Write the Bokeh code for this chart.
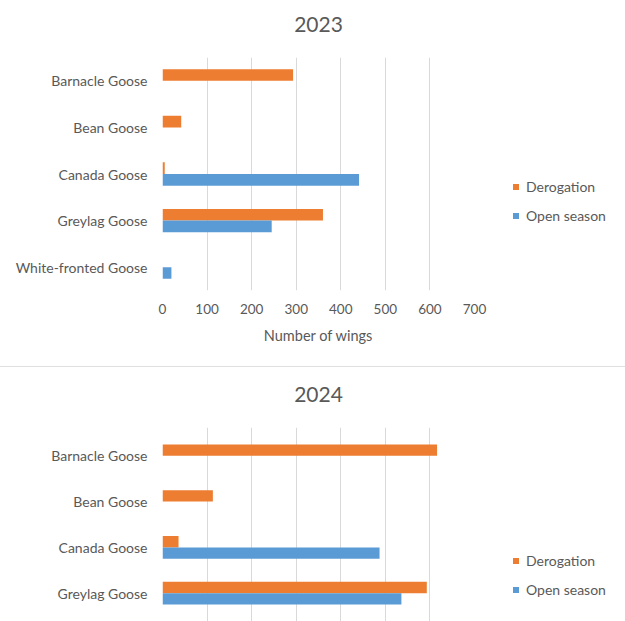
from bokeh.plotting import figure
from bokeh.models import (ColumnDataSource, FactorRange, Range1d, Legend, LegendItem,
                          FixedTicker, Spacer, Title)
from bokeh.layouts import column, row
from bokeh.transform import dodge
from bokeh.embed import file_html
from bokeh.resources import INLINE

# ---- data ----
species_2023 = ["Barnacle Goose", "Bean Goose", "Canada Goose", "Greylag Goose", "White-fronted Goose"]
derogation_2023 = [293, 42, 5, 360, 0]
open_season_2023 = [0, 0, 441, 245, 20]

species_2024 = ["Barnacle Goose", "Bean Goose", "Canada Goose", "Greylag Goose"]
derogation_2024 = [616, 113, 36, 593]
open_season_2024 = [0, 0, 487, 536]

series_names = ["Derogation", "Open season"]
x_ticks = [0, 100, 200, 300, 400, 500, 600, 700]
x_axis_title = "Number of wings"

ORANGE = "#ED7D31"
BLUE = "#5B9BD5"
TEXT = "#595959"
GRID = "#D9D9D9"
FONT = "Lato"
W_MAIN = 494
W_LEG = 131


def make_chart(title, species, derog, opn, height, border_top, border_bottom,
               show_x, gap, pad):
    src = ColumnDataSource(dict(species=species, derog=derog, opn=opn))
    p = figure(width=W_MAIN, height=height,
               y_range=FactorRange(factors=list(reversed(species)),
                                   range_padding=pad, range_padding_units="absolute"),
               x_range=Range1d(0, 700),
               output_backend="svg", toolbar_location=None,
               min_border_left=162, min_border_right=20,
               min_border_top=border_top, min_border_bottom=border_bottom)
    p.hbar(y=dodge("species", 0.125, range=p.y_range), left=0, right="derog",
           height=0.25, source=src, fill_color=ORANGE, line_color=None)
    p.hbar(y=dodge("species", -0.125, range=p.y_range), left=0, right="opn",
           height=0.25, source=src, fill_color=BLUE, line_color=None)

    # blank spacer title (inner) keeps distance between the chart title and the bars
    p.add_layout(Title(text=" ", text_font_size="1px", standoff=gap), "above")
    p.add_layout(Title(text=title, text_font=FONT, text_font_size="21px",
                       text_font_style="normal", text_color=TEXT, align="center",
                       vertical_align="bottom", standoff=0), "above")

    p.outline_line_color = None
    p.ygrid.grid_line_color = None
    p.xgrid.grid_line_color = GRID
    p.xgrid.grid_line_width = 1
    p.xaxis.ticker = FixedTicker(ticks=x_ticks)

    for ax in (p.xaxis, p.yaxis):
        ax.axis_line_color = None
        ax.major_tick_line_color = None
        ax.minor_tick_line_color = None
        ax.major_tick_in = 0
        ax.major_tick_out = 0
        ax.major_label_text_font = FONT
        ax.major_label_text_color = TEXT
        ax.axis_label_text_font = FONT
        ax.axis_label_text_color = TEXT
        ax.axis_label_text_font_style = "normal"
    p.yaxis.major_label_text_font_size = "14px"
    p.yaxis.major_label_standoff = 15
    p.xaxis.major_label_text_font_size = "13.5px"
    p.xaxis.major_label_standoff = 13
    if show_x:
        p.xaxis.axis_label = x_axis_title
        p.xaxis.axis_label_text_font_size = "14.5px"
        p.xaxis.axis_label_standoff = 10
    else:
        p.xaxis.visible = False
    return p


def make_legend(height, loc):
    lf = figure(width=W_LEG, height=height, x_range=Range1d(0, 1), y_range=Range1d(0, 1),
                x_axis_type=None, y_axis_type=None, output_backend="svg",
                toolbar_location=None, min_border=0)
    lf.outline_line_color = None
    lf.grid.visible = False
    # markers placed outside the visible range: only their legend swatches show
    m1 = lf.scatter(x=[-10], y=[-10], marker="square", fill_color=ORANGE, line_color=None)
    m2 = lf.scatter(x=[-10], y=[-10], marker="square", fill_color=BLUE, line_color=None)
    legend = Legend(items=[LegendItem(label=series_names[0], renderers=[m1]),
                           LegendItem(label=series_names[1], renderers=[m2])],
                    location=loc, glyph_width=15, glyph_height=17,
                    label_height=17, label_standoff=3, spacing=12,
                    padding=0, margin=0, border_line_alpha=0,
                    background_fill_alpha=0, label_text_font=FONT,
                    label_text_font_size="14px", label_text_color=TEXT)
    lf.add_layout(legend)
    return lf


p1 = make_chart("2023", species_2023, derogation_2023, open_season_2023,
                height=366, border_top=57, border_bottom=76, show_x=True,
                gap=23, pad=0)
l1 = make_legend(366, (14, 66))
sep = Spacer(width=W_MAIN + W_LEG, height=1, styles={"background-color": "#E0E0E0"})
p2 = make_chart("2024", species_2024, derogation_2024, open_season_2024,
                height=254, border_top=60, border_bottom=0, show_x=False,
                gap=23, pad=0.12)
l2 = make_legend(254, (14, 23))

layout = column(row(p1, l1, spacing=0), sep, row(p2, l2, spacing=0), spacing=0)
open("out.html", "w").write(file_html(layout, INLINE))
